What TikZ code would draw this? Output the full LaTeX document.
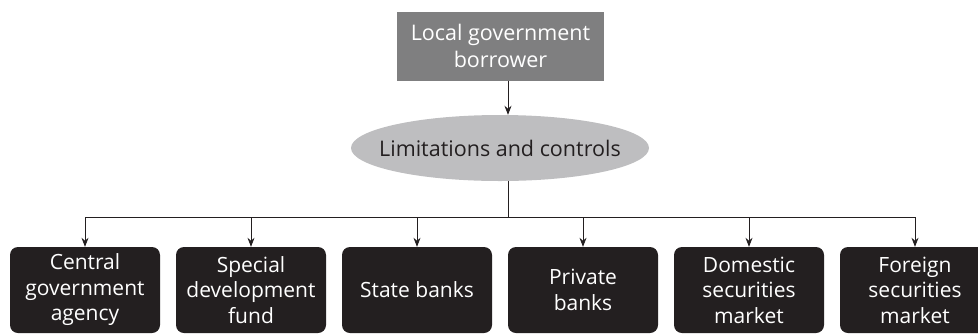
\documentclass[tikz,border=0pt]{standalone}
\usepackage{fontspec}
\setmainfont{Open Sans}
\usetikzlibrary{shapes.geometric,arrows.meta}
\definecolor{topgray}{HTML}{7F7F80}
\definecolor{ellgray}{HTML}{BEBEC0}
\definecolor{boxblack}{HTML}{231F20}
\begin{document}
\begin{tikzpicture}[x=1pt,y=-1pt,
  topbox/.style={fill=topgray,text=white,minimum width=207pt,minimum height=69pt,inner sep=0pt,align=center,font=\fontsize{21.5}{26.5}\selectfont},
  ellbox/.style={ellipse,fill=ellgray,text=boxblack,minimum width=298pt,minimum height=66pt,inner sep=0pt,font=\fontsize{21.5}{26}\selectfont},
  leafbox/.style={fill=boxblack,text=white,rounded corners=8pt,minimum width=150pt,minimum height=86pt,inner sep=0pt,align=center,font=\fontsize{21}{25.5}\selectfont},
  conn/.style={line width=0.8pt,draw=boxblack},
  arr/.style={conn,-{Stealth[length=9pt,width=7pt]}}]
\useasboundingbox (0,0) rectangle (978,333);
\begin{scope}
\clip (0,0) rectangle (978,333);
\node[topbox] (top) at (500.5,46) {Local government\\borrower};
\node[ellbox] (lim) at (500,148) {\makebox[0pt]{Limitations and controls}};
\node[leafbox] (b1) at (85,290) {Central\\government\\agency};
\node[leafbox] (b2) at (251,290) {Special\\development\\fund};
\node[leafbox] (b3) at (417,290) {State banks};
\node[leafbox] (b4) at (583,290) {Private\\banks};
\node[leafbox] (b5) at (749,290) {Domestic\\securities\\market};
\node[leafbox] (b6) at (915,290) {Foreign\\securities\\market};
\coordinate (bus) at (508,217);
\draw[arr] (top.south -| bus) -- (lim.north -| bus);
\draw[conn] (lim.south -| bus) -- (bus);
\foreach \b in {b1,b2,b3,b4,b5,b6}{
  \draw[arr] (bus) -| (\b.north);
}
\end{scope}
\end{tikzpicture}
\end{document}
